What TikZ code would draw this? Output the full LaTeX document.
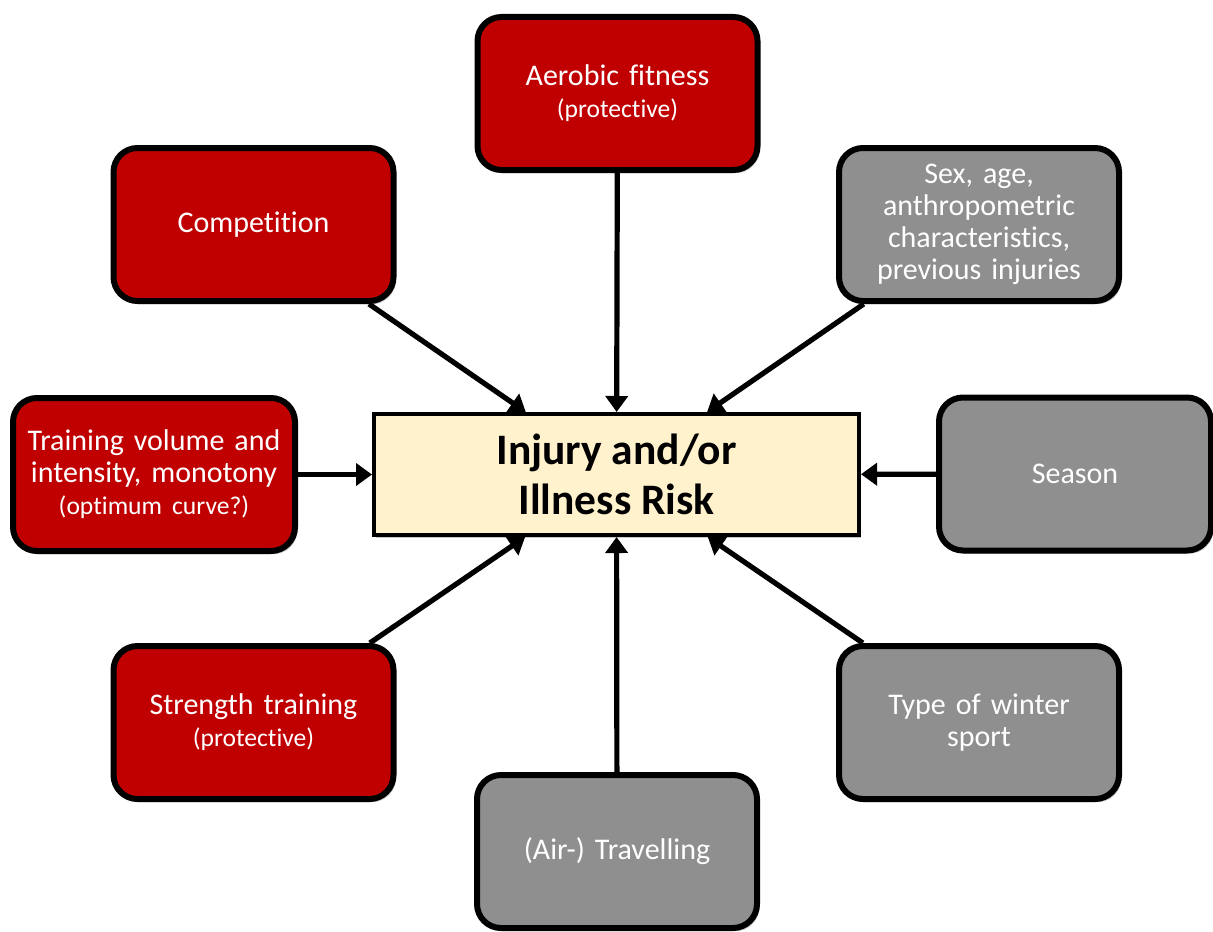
\documentclass[tikz,border=0pt]{standalone}
\usepackage{fontspec}
\setmainfont{Carlito}[Ligatures={NoCommon}]
\usetikzlibrary{arrows.meta,shadows}
\definecolor{boxred}{HTML}{C00000}
\definecolor{boxgray}{HTML}{8F8F8F}
\definecolor{centerfill}{HTML}{FFF2CC}
\begin{document}
\begin{tikzpicture}[x=0.5pt,y=-0.5pt,
  factor/.style={rounded corners=12pt, draw=black, line width=3pt,
    minimum width=140pt, minimum height=76.5pt, text width=132pt,
    align=center, text=white, inner sep=0pt,
    font=\fontsize{15}{16}\selectfont,
    drop shadow={shadow xshift=1.2pt, shadow yshift=-1.6pt, opacity=0.22, fill=black}},
  redbox/.style={factor, fill=boxred},
  graybox/.style={factor, fill=boxgray},
  centerbox/.style={draw=black, line width=2pt, fill=centerfill,
    minimum width=242.5pt, minimum height=60.5pt, align=center, inner sep=0pt,
    font=\bfseries\fontsize{21.75}{25}\selectfont,
    drop shadow={shadow xshift=1.2pt, shadow yshift=-1.6pt, opacity=0.22, fill=black}},
  arr/.style={line width=2.6pt, -{Triangle[length=8pt,width=11pt]}}
]
\newcommand{\smalltext}[1]{{\fontsize{12.8}{16}\selectfont #1}}
\useasboundingbox (0,0) rectangle (1213,931);

\node[centerbox] (center) at (616.5,474.5) {Injury and/or\\Illness Risk};

\node[redbox] (aer) at (617.5,93.5) {Aerobic fitness\\\smalltext{(protective)}};
\node[redbox] (comp) at (253.5,224.5) {Competition};
\node[graybox] (sex) at (979,224.5) {Sex, age,\\anthropometric\\characteristics,\\previous injuries};
\node[redbox, minimum width=141pt] (train) at (154,474.5) {Training volume and\\intensity, monotony\\\smalltext{(optimum curve?)}};
\node[graybox, minimum width=136pt] (season) at (1075,474) {Season};
\node[redbox] (strength) at (253.5,722.5) {Strength training\\\smalltext{(protective)}};
\node[graybox] (winter) at (979,722.5) {Type of winter\\sport};
\node[graybox] (travel) at (617,851.5) {(Air-) Travelling};

\draw[arr] (aer) -- (center);
\draw[arr] (comp) -- (center);
\draw[arr] (sex) -- (center);
\draw[arr] (train) -- (center);
\draw[arr] (season) -- (center);
\draw[arr] (strength) -- (center);
\draw[arr] (winter) -- (center);
\draw[arr] (travel) -- (center);
\end{tikzpicture}
\end{document}
